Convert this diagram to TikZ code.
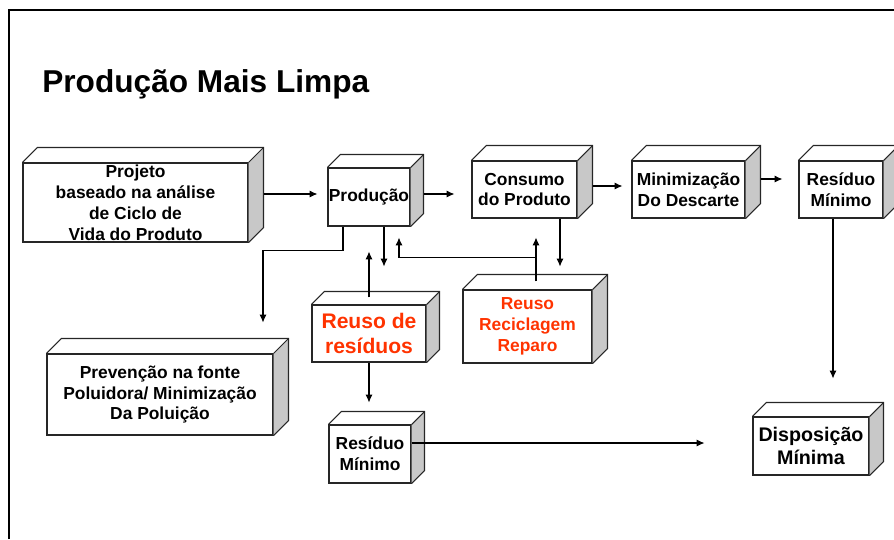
\documentclass[tikz,border=0pt]{standalone}
\usepackage{fontspec}
\setmainfont{Liberation Sans}
\usepackage{tikz}
\usetikzlibrary{positioning}
\usetikzlibrary{arrows.meta}
\usetikzlibrary{calc}

\definecolor{ladogray}{RGB}{200,200,200}
\definecolor{reusored}{RGB}{255,51,0}

% faces of a box: node name, depth
\newcommand{\cubo}[2]{%
\fill[ladogray] (#1.north east) -- ++(#2,-#2) -- ($(#1.south east)+(#2,-#2)$) -- (#1.south east) -- cycle;
\draw[boxline] (#1.north west) -- ++(#2,-#2) -- ($(#1.north east)+(#2,-#2)$) -- ($(#1.south east)+(#2,-#2)$) -- (#1.south east);
\draw[boxline] (#1.north east) -- ++(#2,-#2);
}

\begin{document}
\begin{tikzpicture}
[x=0.02cm,y=-0.02cm,
boxline/.style={draw=black!85,line width=0.6pt},
caixa/.style={boxline,fill=white,inner sep=0pt,align=center,font=\bfseries\fontsize{9.9}{11.9}\selectfont},
seta/.style={line width=0.6pt,-{Latex[length=4.5pt,width=4pt]}}]
\useasboundingbox (0,0) rectangle (894,539);

\draw[line width=0.6pt] (9,539) -- (9,10) -- (894,10);
\node[anchor=base west,inner sep=0pt,font=\bfseries\fontsize{18}{21}\selectfont] (titulo) at (42,92) {Produção Mais Limpa};

\node[caixa,minimum width=4.5cm,minimum height=1.58cm] (projeto) at (135.5,202.5) {Projeto\\baseado na análise\\de Ciclo de\\Vida do Produto};
\node[caixa,minimum width=1.64cm,minimum height=1.16cm] (producao) at (369,197) {Produção};
\node[caixa,minimum width=2.1cm,minimum height=1.14cm] (consumo) at (524.5,189.5) {Consumo\\do Produto};
\node[caixa,minimum width=2.26cm,minimum height=1.14cm] (minimiz) at (688.5,189.5) {Minimização\\Do Descarte};
\node[caixa,minimum width=1.68cm,minimum height=1.14cm] (residuoA) at (841,189.5) {Resíduo\\Mínimo};
\node[caixa,minimum width=2.28cm,minimum height=1.14cm,text=reusored,font=\bfseries\fontsize{12}{14.7}\selectfont] (reusores) at (369,333.5) {Reuso de\\resíduos};
\node[caixa,minimum width=2.58cm,minimum height=1.46cm,text=reusored] (reciclagem) at (527.5,326.5) {Reuso\\Reciclagem\\Reparo};
\node[caixa,minimum width=4.52cm,minimum height=1.62cm] (prevencao) at (160,394.5) {Prevenção na fonte\\Poluidora/ Minimização\\Da Poluição};
\node[caixa,minimum width=1.64cm,minimum height=1.16cm] (residuoB) at (370,454) {Resíduo\\Mínimo};
\node[caixa,minimum width=2.32cm,minimum height=1.16cm,font=\bfseries\fontsize{11.2}{13}\selectfont] (disposicao) at (811,446) {Disposição\\Mínima};

\cubo{projeto}{15}
\cubo{producao}{13}
\cubo{consumo}{15}
\cubo{minimiz}{15}
\cubo{residuoA}{15}
\cubo{reusores}{13}
\cubo{reciclagem}{15}
\cubo{prevencao}{15}
\cubo{residuoB}{13}
\cubo{disposicao}{14}

% fluxo principal
\coordinate (s1) at ($(projeto.east)+(15,-8.5)$);
\draw[seta,shorten >=0.2cm] (s1) -- (s1 -| producao.west);
\coordinate (s2) at ($(producao.east)+(13,-3)$);
\draw[seta,shorten >=0.34cm] (s2) -- (s2 -| consumo.west);
\coordinate (s3) at ($(consumo.east)+(15,-3.5)$);
\draw[seta,shorten >=0.18cm] (s3) -- (s3 -| minimiz.west);
\coordinate (s4) at ($(minimiz.east)+(15,-10.5)$);
\draw[seta,shorten >=0.32cm] (s4) -- (s4 -| residuoA.west);

% ramos
\draw[seta] ($(producao.south)+(-26,0)$) -- ++(0,24) -- ++(-80,0) -- ++(0,72);
\draw[seta] ($(producao.south)+(15,0)$) -- ++(0,40);
\draw[seta] ($(reusores.north)+(0,-7)$) -- ++(0,-46);
\draw[seta] ($(consumo.south)+(35.5,0)$) -- ++(0,48);
\draw[seta] ($(reciclagem.north)+(8.5,-8)$) -- ++(0,-44);
\coordinate (j) at ($(reciclagem.north)+(8.5,-32)$);
\draw[seta] (j) -| ($(producao.south)+(30,11)$);
\draw[seta] (reusores.south) -- ++(0,40);
\draw[seta] ($(residuoB.east)+(0,-11)$) -- ++(293,0);
\draw[seta] ($(residuoA.south)+(-8,0)$) -- ++(0,160);
\end{tikzpicture}
\end{document}
